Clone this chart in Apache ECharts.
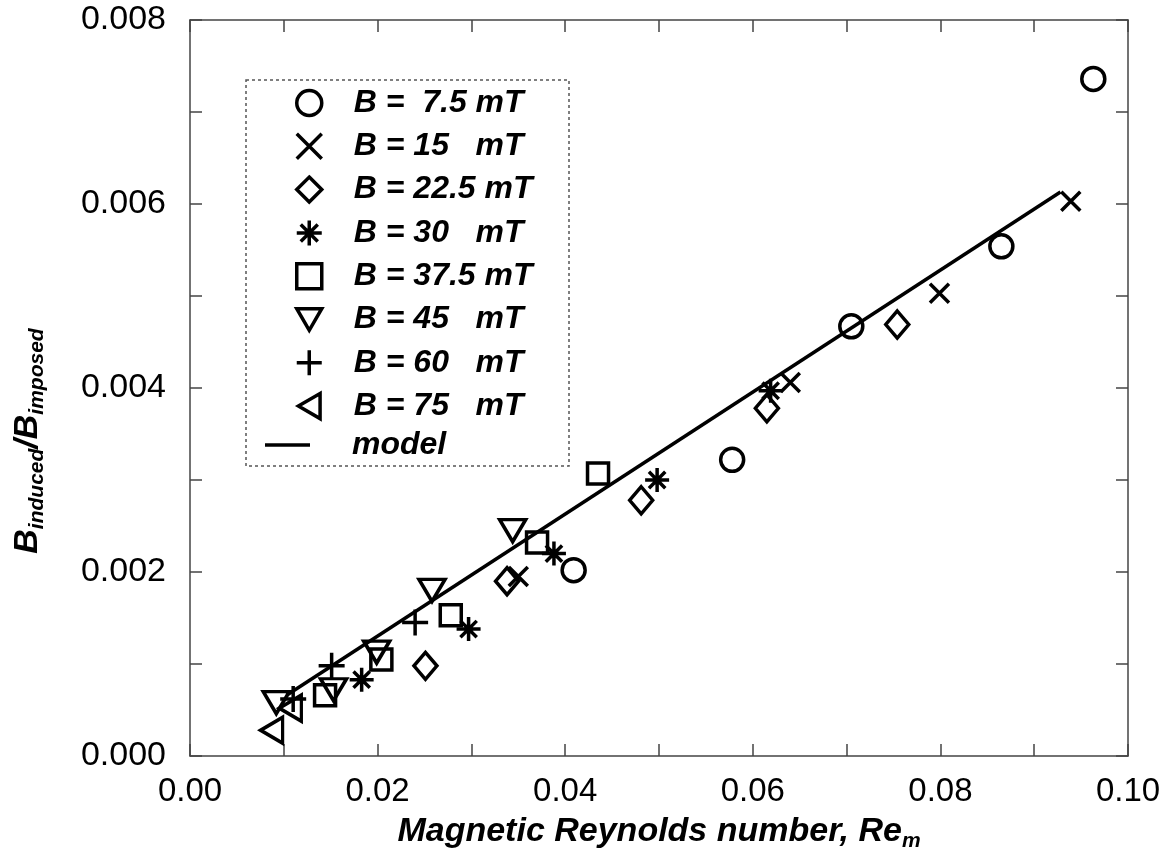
<!DOCTYPE html>
<html>
<head>
<meta charset="utf-8">
<script src="https://cdn.jsdelivr.net/npm/echarts@6/dist/echarts.min.js"></script>
<style>
html,body{margin:0;padding:0;background:#fff;}
#chart{width:1168px;height:856px;}
</style>
</head>
<body>
<div id="chart"></div>
<script>
// ---- data (Re_m, B_induced/B_imposed) ----
const seriesNames = ['B =  7.5 mT','B = 15   mT','B = 22.5 mT','B = 30   mT','B = 37.5 mT','B = 45   mT','B = 60   mT','B = 75   mT'];
const b7_5  = [[0.0409,0.00202],[0.0578,0.00322],[0.0705,0.00467],[0.0865,0.00554],[0.0963,0.00736]];
const b15   = [[0.0350,0.00195],[0.0640,0.00406],[0.0799,0.00503],[0.0939,0.00603]];
const b22_5 = [[0.0251,0.00098],[0.0338,0.00190],[0.0481,0.00278],[0.0615,0.00378],[0.0754,0.00469]];
const b30   = [[0.0183,0.00083],[0.0297,0.00138],[0.0388,0.00220],[0.0498,0.00300],[0.0619,0.00397]];
const b37_5 = [[0.0144,0.00066],[0.0204,0.00105],[0.0278,0.00153],[0.0370,0.00232],[0.0435,0.00307]];
const b45   = [[0.0092,0.00058],[0.0153,0.00072],[0.0199,0.00113],[0.0258,0.00180],[0.0344,0.00245]];
const b60   = [[0.0110,0.00062],[0.0151,0.00098],[0.0240,0.00145]];
const b75   = [[0.0087,0.00028],[0.0107,0.00052]];
const modelLine = [[0.0103,0.00066],[0.0928,0.00613]];

const chart = echarts.init(document.getElementById('chart'));
const FONT = 'Liberation Sans, Arial, sans-serif';
const AX = '#444';

const symbols = [
  {symbol:'circle', size:23},
  {symbol:'path://M0,0L10,10M10,0L0,10', size:19},
  {symbol:'diamond', size:[23,27]},
  {symbol:'path://M5,0L5,10M0,5L10,5M1.6,1.6L8.4,8.4M8.4,1.6L1.6,8.4', size:24},
  {symbol:'rect', size:21},
  {symbol:'path://M0,0L10,0L5,8.66Z', size:[26,22]},
  {symbol:'path://M5,0L5,10M0,5L10,5', size:26},
  {symbol:'path://M8.66,0L8.66,10L0,5Z', size:[22,26]}
];
const dataSets = [b7_5,b15,b22_5,b30,b37_5,b45,b60,b75];

const scatterSeries = dataSets.map((d,i)=>({
  type:'scatter',
  name: seriesNames[i],
  data: d,
  symbol: symbols[i].symbol,
  symbolSize: symbols[i].size,
  itemStyle:{color:'rgba(0,0,0,0)', borderColor:'#000', borderWidth:3.5, opacity:1},
  emphasis:{disabled:true},
  z:3
}));

const tickStyle = {show:true, inside:true, length:12, lineStyle:{color:AX,width:1.5}};
const lineStyle = {show:true, onZero:false, lineStyle:{color:AX,width:1.5}};
const titleRich = {
  b:{fontFamily:FONT,fontSize:34,fontWeight:'bold',fontStyle:'italic',color:'#000',lineHeight:40,verticalAlign:'middle'},
  s:{fontFamily:FONT,fontSize:21,fontWeight:'bold',fontStyle:'italic',color:'#000',lineHeight:20,verticalAlign:'bottom'}
};

const option = {
  animation:false,
  backgroundColor:'#fff',
  grid:{left:190,right:40,top:20,bottom:100,containLabel:false,outerBoundsMode:'none'},
  graphic:[{
    type:'rect', shape:{x:246,y:80,width:323,height:386},
    style:{fill:'none',stroke:'#555',lineWidth:1.5,lineDash:[3,3]}, z:1
  }],
  legend:[{
    data: seriesNames,
    orient:'vertical', left:295, top:87, padding:0,
    itemWidth:25, itemHeight:25, itemGap:11.3,
    itemStyle:{borderWidth:3.5, borderColor:'#000'},
    textStyle:{fontFamily:FONT,fontSize:32,fontWeight:'bold',fontStyle:'italic',color:'#000',lineHeight:32,padding:[0,0,0,27]},
    selectedMode:false
  },{
    data:[{name:'model',icon:'rect'}],
    orient:'vertical', left:265, top:429, padding:0,
    itemWidth:45, itemHeight:3.5,
    itemStyle:{color:'#000',borderWidth:0},
    textStyle:{fontFamily:FONT,fontSize:32,fontWeight:'bold',fontStyle:'italic',color:'#000',lineHeight:32,padding:[0,0,0,37]},
    selectedMode:false
  }],
  xAxis:[{
    type:'value', min:0, max:0.1, interval:0.01, position:'bottom',
    axisLine:lineStyle, axisTick:tickStyle, splitLine:{show:false},
    axisLabel:{margin:19,fontFamily:FONT,fontSize:33,color:'#000',
      formatter:v=>Math.round(v*100)%2===0?v.toFixed(2):''},
    name:'{b|Magnetic Reynolds number, Re}{s|m}',
    nameLocation:'middle', nameGap:56, nameMoveOverlap:false,
    nameTextStyle:{rich:titleRich}
  },{
    type:'value', min:0, max:0.1, interval:0.01, position:'top',
    axisLine:lineStyle, axisTick:tickStyle, axisLabel:{show:false}, splitLine:{show:false}
  }],
  yAxis:[{
    type:'value', min:0, max:0.008, interval:0.001, position:'left',
    axisLine:lineStyle, axisTick:tickStyle, splitLine:{show:false},
    axisLabel:{margin:24,fontFamily:FONT,fontSize:34,color:'#000',
      formatter:v=>Math.round(v*1000)%2===0?v.toFixed(3):''},
    name:'{b|B}{s|induced}{b|/B}{s|imposed}',
    nameLocation:'middle', nameGap:142, nameMoveOverlap:false,
    nameTextStyle:{rich:titleRich, padding:[0,106,0,0]}
  },{
    type:'value', min:0, max:0.008, interval:0.001, position:'right',
    axisLine:lineStyle, axisTick:tickStyle, axisLabel:{show:false}, splitLine:{show:false}
  }],
  series: scatterSeries.concat([{
    type:'line', name:'model', data:modelLine, symbol:'none',
    lineStyle:{color:'#000',width:3.5}, itemStyle:{color:'#000'},
    emphasis:{disabled:true}, z:2
  }])
};
chart.setOption(option);
</script>
</body>
</html>
